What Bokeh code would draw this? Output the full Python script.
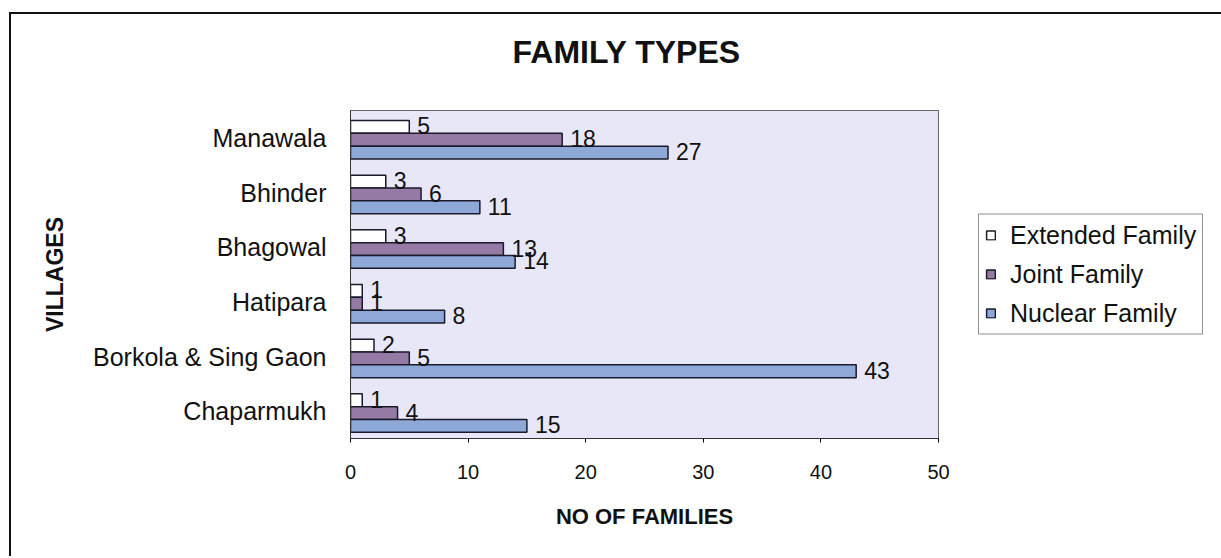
from bokeh.plotting import figure
from bokeh.models import (ColumnDataSource, Range1d, FixedTicker, LabelSet,
                          Legend, LegendItem)
from bokeh.core.properties import value
from bokeh.transform import dodge
from bokeh.embed import file_html
from bokeh.resources import INLINE

villages = ["Manawala", "Bhinder", "Bhagowal", "Hatipara", "Borkola & Sing Gaon", "Chaparmukh"]
extended = [5, 3, 3, 1, 2, 1]
joint = [18, 6, 13, 1, 5, 4]
nuclear = [27, 11, 14, 8, 43, 15]
series_names = ["Extended Family", "Joint Family", "Nuclear Family"]
x_ticks = [0, 10, 20, 30, 40, 50]

FONT = "Liberation Sans"
W, H = 1208, 542
FL, FT, FR, FB = 339, 96, 927, 424

src = ColumnDataSource(dict(village=villages, extended=extended, joint=joint, nuclear=nuclear,
                            ext_t=[str(v) for v in extended],
                            joi_t=[str(v) for v in joint],
                            nuc_t=[str(v) for v in nuclear]))

p = figure(frame_width=FR - FL, frame_height=FB - FT, output_backend="svg", toolbar_location=None,
           y_range=list(reversed(villages)), x_range=Range1d(0, 50),
           min_border_left=FL, min_border_top=FT, min_border_right=W - FR,
           min_border_bottom=H - FB)
p.margin = (12, 0, 0, 9)
p.styles = {"border-top": "2px solid #111", "border-left": "2px solid #111"}

p.background_fill_color = "#E7E7F7"
p.border_fill_color = "white"
p.outline_line_color = "#666"
p.outline_line_width = 1
p.xgrid.visible = False
p.ygrid.visible = False

p.title.text = "FAMILY TYPES\n "
p.title.align = "left"
p.title.offset = 162
p.title.standoff = 10
p.title.text_line_height = 1.0
p.title.text_font = FONT
p.title.text_font_size = "32px"
p.title.text_font_style = "bold"
p.title.text_color = "#111"

colors = ["#FFFFFF", "#967AA6", "#8EA8D8"]
offsets = [0.2, -0.035, -0.27]
fields = ["extended", "joint", "nuclear"]
tfields = ["ext_t", "joi_t", "nuc_t"]
renderers = []
for f, tf, c, off in zip(fields, tfields, colors, offsets):
    r = p.hbar(y=dodge("village", off, range=p.y_range), left=0, right=f, height=0.235,
               source=src, fill_color=c, line_color="#1a1a2a", line_width=1.5)
    renderers.append(r)
    p.add_layout(LabelSet(x=f, y=dodge("village", off, range=p.y_range), text=tf, source=src,
                          x_offset=8, y_offset=1, text_baseline="middle", text_align="left",
                          text_font=value(FONT), text_font_size="23px", text_color="#111"))

xa = p.xaxis[0]
xa.ticker = FixedTicker(ticks=x_ticks)
xa.major_label_standoff = 22
xa.major_tick_out = 4
xa.major_tick_in = 0
xa.minor_tick_line_color = None
xa.axis_line_color = "#333"
xa.major_label_text_font = FONT
xa.major_label_text_font_size = "20px"
xa.major_label_text_color = "#111"
xa.axis_label = "NO OF FAMILIES"
xa.axis_label_standoff = 22
xa.axis_label_text_font = FONT
xa.axis_label_text_font_size = "22px"
xa.axis_label_text_font_style = "bold"
xa.axis_label_text_color = "#111"

ya = p.yaxis[0]
ya.major_tick_line_color = None
ya.minor_tick_line_color = None
ya.axis_line_color = "#333"
ya.major_label_standoff = 18
ya.major_label_text_font = FONT
ya.major_label_text_font_size = "25px"
ya.major_label_text_color = "#111"
ya.axis_label = "VILLAGES"
ya.axis_label_standoff = 22
ya.axis_label_text_font = FONT
ya.axis_label_text_font_size = "23px"
ya.axis_label_text_font_style = "bold"
ya.axis_label_text_color = "#111"

legend = Legend(items=[LegendItem(label=n, renderers=[r]) for n, r in zip(series_names, renderers)],
                location="center_left")
legend.border_line_color = "#222"
legend.border_line_width = 1
legend.background_fill_color = "white"
legend.background_fill_alpha = 1
legend.label_text_font = FONT
legend.label_text_font_size = "25px"
legend.label_text_color = "#111"
legend.glyph_width = 11
legend.glyph_height = 11
legend.label_height = 24
legend.spacing = 10
legend.padding = 6
legend.margin = 40
legend.label_standoff = 14
p.add_layout(legend, "right")

open("out.html", "w").write(file_html(p, INLINE))
